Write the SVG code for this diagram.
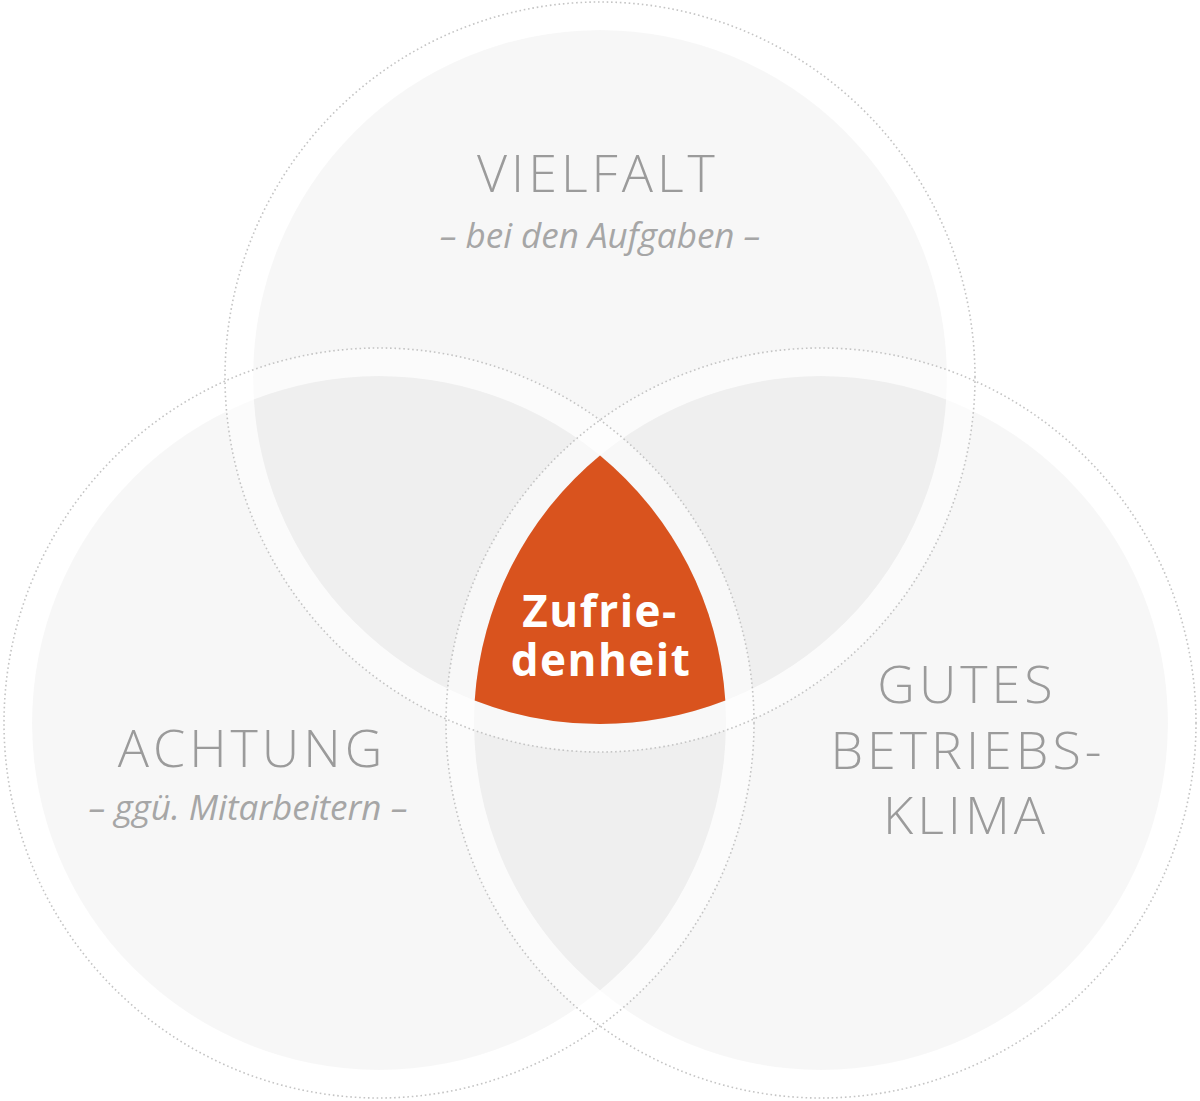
<svg xmlns="http://www.w3.org/2000/svg" width="1200" height="1101" viewBox="0 0 1200 1101">
<style>
.fill{fill:#000;fill-opacity:0.031}
.ring{fill:none;stroke:#fff;stroke-opacity:0.55;stroke-width:28}
.dots{fill:none;stroke:#c4c4c4;stroke-width:1.6;stroke-dasharray:1.6 2.8}
.title{font-family:"Open Sans","Liberation Sans",sans-serif;font-weight:300;font-size:52px;letter-spacing:4px;fill:#9b9b9b;text-anchor:middle}
.sub{font-family:"Open Sans","Liberation Sans",sans-serif;font-style:italic;font-size:35px;fill:#a6a6a6;text-anchor:middle}
.center{font-family:"Open Sans","Liberation Sans",sans-serif;font-weight:700;font-size:44px;letter-spacing:1.5px;fill:#fff;text-anchor:middle}
</style>
<rect width="1200" height="1101" fill="#fff"/>
<g id="circle-fills">
<circle id="fill-vielfalt" class="fill" cx="600" cy="377" r="347"/>
<circle id="fill-achtung" class="fill" cx="379" cy="723" r="347"/>
<circle id="fill-klima" class="fill" cx="821" cy="723" r="347"/>
</g>
<g id="circle-rings">
<circle class="ring" cx="600" cy="377" r="361"/>
<circle class="ring" cx="379" cy="723" r="361"/>
<circle class="ring" cx="821" cy="723" r="361"/>
<circle class="dots" cx="600" cy="377" r="375"/>
<circle class="dots" cx="379" cy="723" r="375"/>
<circle class="dots" cx="821" cy="723" r="375"/>
</g>
<g id="node-vielfalt">
<text class="title" x="598" y="192">VIELFALT</text>
<text class="sub" x="600" y="248">– bei den Aufgaben –</text>
</g>
<g id="node-achtung">
<text class="title" x="252" y="767">ACHTUNG</text>
<text class="sub" x="248" y="820">– ggü. Mitarbeitern –</text>
</g>
<g id="node-klima">
<text class="title" x="967" y="703">GUTES</text>
<text class="title" x="968" y="769">BETRIEBS-</text>
<text class="title" x="966" y="834">KLIMA</text>
</g>
<g id="node-zufriedenheit">
<path d="M600,455.5 A347,347 0 0 0 474.7,700.6 A347,347 0 0 0 725.3,700.6 A347,347 0 0 0 600,455.5 Z" fill="#d9531e"/>
<text class="center"><tspan x="600" y="627">Zufrie-</tspan><tspan x="601" y="676">denheit</tspan></text>
</g>
</svg>
